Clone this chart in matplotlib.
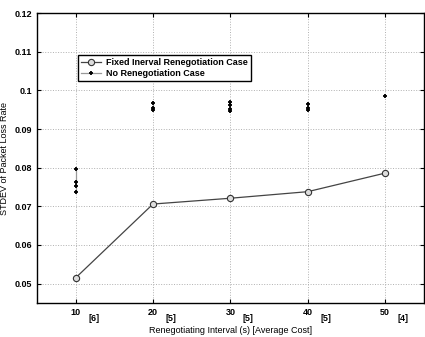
import matplotlib
matplotlib.use("Agg")
from matplotlib import pyplot as plt

plt.rcParams['font.family'] = ['Liberation Sans', 'DejaVu Sans']
plt.rcParams['font.weight'] = 'bold'

intervals = [10, 20, 30, 40, 50]
avg_cost = ['[6]', '[5]', '[5]', '[5]', '[4]']
fixed_stdev = [0.0515, 0.0706, 0.0721, 0.0738, 0.0786]

# several runs per interval for the no-renegotiation case
no_reneg = {
    10: [0.0796, 0.0764, 0.0753, 0.0736],
    20: [0.0968, 0.0955, 0.0949],
    30: [0.0970, 0.0961, 0.0953, 0.0948],
    40: [0.0966, 0.0955, 0.0949],
    50: [0.0985],
}

fig = plt.figure(figsize=(4.25, 3.37), dpi=100)
ax = fig.add_axes([0.087, 0.101, 0.91, 0.86])

ax.plot(intervals, fixed_stdev, '-', color='#444444', lw=0.9,
        marker='o', ms=4.5, mfc='#dddddd', mec='#333333', mew=0.8,
        label='Fixed Inerval Renegotiation Case')
first = True
for x, vals in no_reneg.items():
    ax.plot([x] * len(vals), vals, '-', color='#999999', lw=0.9,
            marker='+', ms=3.5, mec='black', mew=1.3,
            label='No Renegotiation Case' if first else None)
    first = False

ax.set_xlim(5, 55)
ax.set_ylim(0.045, 0.12)
ax.set_xticks(intervals)
ax.set_xticklabels([str(x) for x in intervals])
ax.set_yticks([0.05, 0.06, 0.07, 0.08, 0.09, 0.1, 0.11, 0.12])
ax.set_yticklabels(['0.05', '0.06', '0.07', '0.08', '0.09', '0.1', '0.11', '0.12'])
ax.tick_params(direction='in', labelsize=6.5, length=3, top=True, right=True)
ax.grid(True, linestyle=':', color='#b0b0b0', lw=0.7)
for s in ax.spines.values():
    s.set_linewidth(1.0)

# cost in brackets next to each tick label
for x, c in zip(intervals, avg_cost):
    ax.annotate(c, xy=(x, 0.045), xycoords='data', xytext=(9, -13),
                textcoords='offset points', fontsize=6.5, ha='left')

ax.set_xlabel('Renegotiating Interval (s) [Average Cost]', fontsize=6.5, labelpad=6.5)
ax.set_ylabel('STDEV of Packet Loss Rate', fontsize=6.5, labelpad=4)

ax.legend(loc='upper left', bbox_to_anchor=(0.095, 0.87), fontsize=6.5,
          frameon=True, fancybox=False, edgecolor='black', framealpha=1,
          handlelength=2.2, borderpad=0.3, labelspacing=0.2, handletextpad=0.6)

fig.savefig('out.png', dpi=100)
